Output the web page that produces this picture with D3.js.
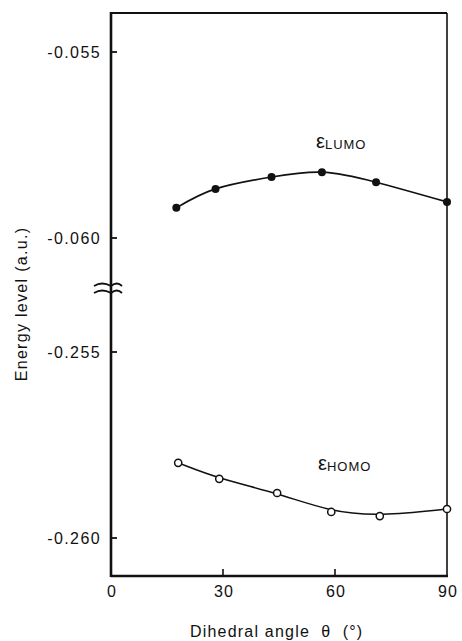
<!DOCTYPE html>
<html>
<head>
<meta charset="utf-8">
<script src="https://cdn.jsdelivr.net/npm/d3@7"></script>
<style>
  body { margin: 0; background: #fff; }
  text { font-family: "Liberation Sans", Arial, sans-serif; fill: #111; }
</style>
</head>
<body>
<div id="chart"></div>
<script>
// dihedral angle (deg) and orbital energies (a.u.)
const lumoAngles = [17.5, 28, 43, 56.5, 71, 90];
const lumoValues = [-0.05919, -0.05868, -0.05836, -0.05823, -0.0585, -0.05903];
const homoAngles = [18, 29, 44.5, 59, 72, 90];
const homoValues = [-0.25798, -0.25841, -0.25879, -0.2593, -0.25941, -0.25922];

const xTicks = [0, 30, 60, 90];
const upperTicks = [-0.055, -0.060];
const lowerTicks = [-0.255, -0.260];

const width = 462, height = 641;
const frame = { left: 111, right: 447, top: 13, bottom: 576 };

const svg = d3.select("#chart").append("svg")
  .attr("width", width)
  .attr("height", height);

const x = d3.scaleLinear().domain([0, 90]).range([frame.left, frame.right]);
// broken y axis: two scales, same px per unit
const yUp = d3.scaleLinear().domain([-0.060, -0.055]).range([238, 52]);
const yLo = d3.scaleLinear().domain([-0.260, -0.255]).range([538, 352]);

// frame
svg.append("line").attr("x1", frame.left).attr("x2", frame.right)
  .attr("y1", frame.top).attr("y2", frame.top)
  .attr("stroke", "#111").attr("stroke-width", 2.2);
svg.append("line").attr("x1", frame.right).attr("x2", frame.right)
  .attr("y1", frame.top).attr("y2", frame.bottom)
  .attr("stroke", "#111").attr("stroke-width", 1.6);
svg.append("line").attr("x1", frame.left).attr("x2", frame.right + 1)
  .attr("y1", frame.bottom).attr("y2", frame.bottom)
  .attr("stroke", "#111").attr("stroke-width", 2.6);
svg.append("line").attr("x1", frame.left).attr("x2", frame.left)
  .attr("y1", frame.top - 1).attr("y2", frame.bottom + 1)
  .attr("stroke", "#111").attr("stroke-width", 2.6);

// y ticks (inward) and labels
const yTickList = upperTicks.map(v => ({ v, y: yUp(v) }))
  .concat(lowerTicks.map(v => ({ v, y: yLo(v) })));

svg.selectAll(".ytick").data(yTickList).enter().append("line")
  .attr("x1", frame.left).attr("x2", frame.left + 6)
  .attr("y1", d => d.y).attr("y2", d => d.y)
  .attr("stroke", "#111").attr("stroke-width", 1.8);

svg.selectAll(".ylab").data(yTickList).enter().append("text")
  .attr("x", 101).attr("y", d => d.y + 6)
  .attr("text-anchor", "end")
  .style("font-size", "16px")
  .style("letter-spacing", "1.4px")
  .text(d => d3.format(".3f")(d.v).replace("−", "-"));

// x ticks (inward) and labels
svg.selectAll(".xtick").data(xTicks.filter(d => d > 0 && d < 90)).enter().append("line")
  .attr("x1", d => x(d)).attr("x2", d => x(d))
  .attr("y1", frame.bottom).attr("y2", frame.bottom - 7)
  .attr("stroke", "#111").attr("stroke-width", 1.6);

svg.selectAll(".xlab").data(xTicks).enter().append("text")
  .attr("x", d => x(d) + 1).attr("y", 597)
  .attr("text-anchor", "middle")
  .style("font-size", "16px")
  .style("letter-spacing", "1.2px")
  .text(d => d);

// axis break mark
const brk = svg.append("g").attr("fill", "none").attr("stroke", "#111").attr("stroke-width", 1.8);
[285, 292].forEach(yy => {
  brk.append("path")
    .attr("d", `M${frame.left - 17},${yy + 1} Q${frame.left - 9},${yy - 4} ${frame.left},${yy + 1} Q${frame.left + 6},${yy - 4} ${frame.left + 11},${yy + 1}`);
});

// axis titles
svg.append("text")
  .attr("transform", "translate(27," + 304 + ") rotate(-90)")
  .attr("text-anchor", "middle")
  .style("font-size", "16px")
  .style("letter-spacing", "1.3px")
  .text("Energy level (a.u.)");

svg.append("text")
  .attr("x", 190).attr("y", 637)
  .style("font-size", "16px")
  .style("letter-spacing", "1.2px")
  .style("white-space", "pre")
  .text("Dihedral angle  θ  (°)");

// curves
const lumo = lumoAngles.map((a, i) => ({ a, v: lumoValues[i] }));
const homo = homoAngles.map((a, i) => ({ a, v: homoValues[i] }));

const lineUp = d3.line().x(d => x(d.a)).y(d => yUp(d.v)).curve(d3.curveNatural);
const lineLo = d3.line().x(d => x(d.a)).y(d => yLo(d.v)).curve(d3.curveBasis);

svg.append("path").datum(lumo).attr("d", lineUp)
  .attr("fill", "none").attr("stroke", "#111").attr("stroke-width", 1.7);
svg.append("path").datum(homo).attr("d", lineLo)
  .attr("fill", "none").attr("stroke", "#111").attr("stroke-width", 1.5);

svg.selectAll(".lumo").data(lumo).enter().append("circle")
  .attr("cx", d => x(d.a)).attr("cy", d => yUp(d.v)).attr("r", 4)
  .attr("fill", "#111");

svg.selectAll(".homo").data(homo).enter().append("circle")
  .attr("cx", d => x(d.a)).attr("cy", d => yLo(d.v)).attr("r", 3.6)
  .attr("fill", "#fff").attr("stroke", "#111").attr("stroke-width", 1.5);

// series labels
const lbl = (xx, yy, sub) => {
  const t = svg.append("text").attr("x", xx).attr("y", yy);
  t.append("tspan").style("font-size", "20px").text("ε");
  t.append("tspan").attr("dy", 1).style("font-size", "13px").style("letter-spacing", "1px").text(sub);
};
lbl(316, 148, "LUMO");
lbl(318, 470, "HOMO");
</script>
</body>
</html>
